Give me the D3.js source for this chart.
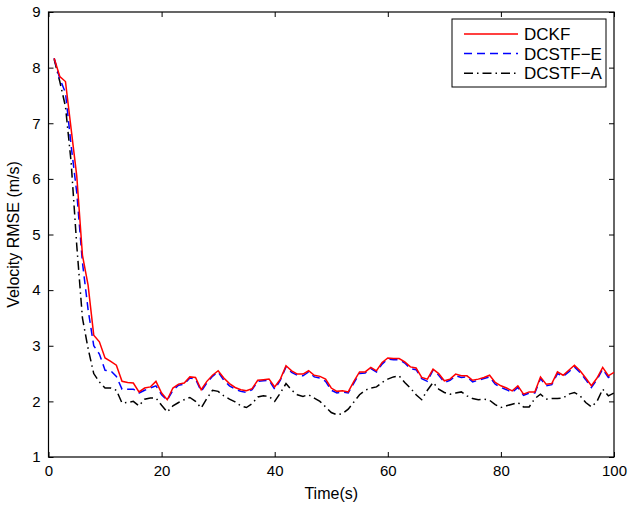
<!DOCTYPE html>
<html>
<head>
<meta charset="utf-8">
<script src="https://cdn.jsdelivr.net/npm/d3@7"></script>
<style>
  body { margin: 0; background: #fff; }
  text { font-family: "Liberation Sans", Arial, Helvetica, sans-serif; }
</style>
</head>
<body>
<div id="chart-area"></div>
<script>
// data (time 1..100 s)
var dckf = [8.17,7.84,7.75,6.9,6.05,4.63,4.09,3.19,3.07,2.78,
  2.72,2.65,2.36,2.34,2.33,2.17,2.24,2.26,2.36,2.15,
  2.03,2.24,2.31,2.33,2.44,2.43,2.21,2.36,2.47,2.55,
  2.42,2.32,2.25,2.21,2.19,2.23,2.38,2.39,2.40,2.26,
  2.40,2.64,2.55,2.49,2.49,2.55,2.47,2.45,2.40,2.24,
  2.18,2.19,2.17,2.36,2.53,2.53,2.61,2.55,2.70,2.78,
  2.77,2.77,2.71,2.62,2.60,2.43,2.40,2.58,2.50,2.37,
  2.40,2.49,2.46,2.46,2.38,2.40,2.43,2.47,2.34,2.28,
  2.24,2.19,2.28,2.13,2.17,2.17,2.44,2.31,2.32,2.53,
  2.47,2.56,2.65,2.55,2.42,2.28,2.42,2.61,2.46,2.52];

var dcstfE = [8.17,7.80,7.55,6.6,5.75,4.5,3.65,3.0,2.85,2.56,
  2.55,2.45,2.22,2.22,2.22,2.15,2.20,2.24,2.28,2.12,
  2.02,2.20,2.29,2.31,2.42,2.40,2.18,2.33,2.45,2.53,
  2.38,2.28,2.22,2.18,2.16,2.21,2.36,2.37,2.38,2.22,
  2.38,2.62,2.52,2.47,2.46,2.53,2.44,2.42,2.36,2.20,
  2.15,2.17,2.15,2.33,2.50,2.51,2.59,2.53,2.67,2.76,
  2.75,2.75,2.69,2.59,2.57,2.41,2.36,2.56,2.47,2.34,
  2.38,2.46,2.43,2.44,2.35,2.38,2.41,2.44,2.31,2.25,
  2.21,2.16,2.25,2.11,2.15,2.15,2.41,2.28,2.30,2.50,
  2.45,2.53,2.62,2.52,2.39,2.25,2.39,2.58,2.43,2.49];

var dcstfA = [8.15,7.75,7.3,6.3,4.8,3.5,2.95,2.5,2.35,2.24,
  2.24,2.2,1.97,1.98,2.0,1.92,2.04,2.06,2.06,1.93,
  1.81,1.92,1.98,2.03,2.07,2.0,1.88,2.05,2.2,2.18,
  2.1,2.04,1.99,1.92,1.89,1.96,2.08,2.1,2.09,2.0,
  2.15,2.32,2.2,2.12,2.09,2.12,2.06,2.0,1.9,1.8,
  1.76,1.78,1.86,1.99,2.12,2.2,2.24,2.26,2.34,2.4,
  2.44,2.46,2.34,2.24,2.12,2.03,2.2,2.34,2.22,2.16,
  2.13,2.15,2.17,2.1,2.05,2.03,2.04,2.02,1.94,1.89,
  1.92,1.95,1.98,1.9,1.9,2.05,2.13,2.04,2.05,2.05,
  2.06,2.13,2.16,2.1,1.98,1.9,2.0,2.22,2.1,2.15];

var seriesNames = ["DCKF", "DCSTF\u2212E", "DCSTF\u2212A"];
var xTicks = [0, 20, 40, 60, 80, 100];
var yTicks = [1, 2, 3, 4, 5, 6, 7, 8, 9];

var margin = { top: 12, right: 14, bottom: 49, left: 48.5 };
var width = 628 - margin.left - margin.right;
var height = 506 - margin.top - margin.bottom;

var svg = d3.select("#chart-area").append("svg")
    .attr("width", 628)
    .attr("height", 506);

var g = svg.append("g")
    .attr("transform", "translate(" + margin.left + "," + margin.top + ")");

var x = d3.scaleLinear().domain([0, 100]).range([0, width]);
var y = d3.scaleLinear().domain([1, 9]).range([height, 0]);

// axes, MATLAB style: ticks point inwards, on all four sides
g.append("g")
    .attr("transform", "translate(0," + height + ")")
    .call(d3.axisBottom(x).tickValues(xTicks).tickSizeInner(-5).tickSizeOuter(0).tickPadding(8))
    .call(function (a) { a.select(".domain").remove(); });

g.append("g")
    .call(d3.axisTop(x).tickValues(xTicks).tickSizeInner(-5).tickSizeOuter(0).tickFormat(""))
    .call(function (a) { a.select(".domain").remove(); });

g.append("g")
    .call(d3.axisLeft(y).tickValues(yTicks).tickSizeInner(-5).tickSizeOuter(0).tickPadding(8))
    .call(function (a) { a.select(".domain").remove(); });

g.append("g")
    .attr("transform", "translate(" + width + ",0)")
    .call(d3.axisRight(y).tickValues(yTicks).tickSizeInner(-5).tickSizeOuter(0).tickFormat(""))
    .call(function (a) { a.select(".domain").remove(); });

g.selectAll(".tick line").attr("stroke", "#000").attr("stroke-width", 1);
g.selectAll(".tick text").attr("font-size", 15).attr("fill", "#000")
    .style("font-family", "'Liberation Sans', Arial, sans-serif");

// frame
g.append("rect")
    .attr("width", width).attr("height", height)
    .attr("fill", "none").attr("stroke", "#000").attr("stroke-width", 1.2);

var line = d3.line()
    .x(function (d, i) { return x(i + 1); })
    .y(function (d) { return y(d); });

var styles = [
    { data: dckf, color: "#ff0000", dash: null },
    { data: dcstfE, color: "#0000ff", dash: "8,5" },
    { data: dcstfA, color: "#000000", dash: "9,4,1.5,4" }
];

// draw black first, then blue, then red on top
[2, 1, 0].forEach(function (k) {
    g.append("path")
        .datum(styles[k].data)
        .attr("d", line)
        .attr("fill", "none")
        .attr("stroke", styles[k].color)
        .attr("stroke-width", 1.5)
        .attr("stroke-dasharray", styles[k].dash);
});

// legend
var lg = svg.append("g").attr("transform", "translate(452,19)");
lg.append("rect")
    .attr("width", 154).attr("height", 68)
    .attr("fill", "#fff").attr("stroke", "#000").attr("stroke-width", 1);

seriesNames.forEach(function (name, i) {
    var yy = 15 + i * 19.6;
    lg.append("line")
        .attr("x1", 12).attr("x2", 66)
        .attr("y1", yy).attr("y2", yy)
        .attr("stroke", styles[i].color)
        .attr("stroke-width", 1.5)
        .attr("stroke-dasharray", styles[i].dash);
    lg.append("text")
        .attr("x", 72).attr("y", yy + 6)
        .attr("font-size", 17)
        .text(name);
});

// axis titles
svg.append("text")
    .attr("x", margin.left + width / 2)
    .attr("y", 499)
    .attr("text-anchor", "middle")
    .attr("font-size", 16)
    .text("Time(s)");

svg.append("text")
    .attr("transform", "translate(19," + (margin.top + height / 2) + ") rotate(-90)")
    .attr("text-anchor", "middle")
    .attr("font-size", 16)
    .text("Velocity RMSE (m/s)");
</script>
</body>
</html>
